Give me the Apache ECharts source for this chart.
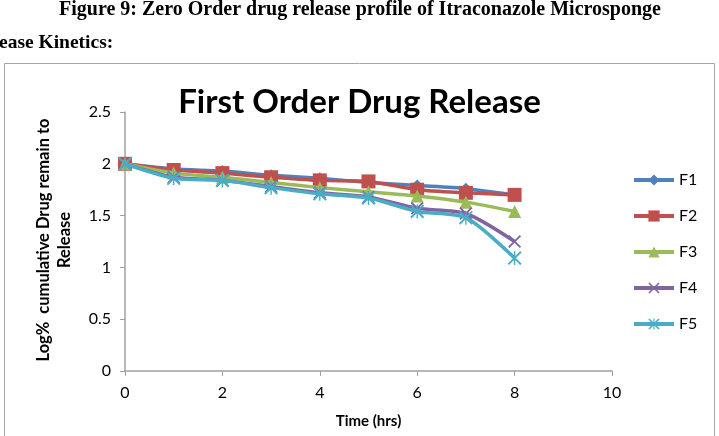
<!DOCTYPE html>
<html>
<head>
<meta charset="utf-8">
<script src="https://cdn.jsdelivr.net/npm/echarts@6/dist/echarts.min.js"></script>
<style>html,body{margin:0;padding:0;background:#fff;}#c{width:719px;height:436px;}</style>
</head>
<body>
<div id="c"></div>
<script>
const timeHrs = [0, 1, 2, 3, 4, 5, 6, 7, 8];
const seriesNames = ['F1', 'F2', 'F3', 'F4', 'F5'];
const F1 = [2.00, 1.95, 1.93, 1.89, 1.86, 1.82, 1.79, 1.76, 1.70];
const F2 = [2.00, 1.94, 1.91, 1.87, 1.84, 1.83, 1.75, 1.72, 1.70];
const F3 = [2.00, 1.91, 1.87, 1.82, 1.77, 1.73, 1.69, 1.63, 1.54];
const F4 = [2.00, 1.87, 1.84, 1.78, 1.72, 1.68, 1.57, 1.52, 1.25];
const F5 = [2.00, 1.86, 1.84, 1.77, 1.71, 1.67, 1.54, 1.48, 1.09];
const xTicks = [0, 2, 4, 6, 8, 10];
const yTicks = [0, 0.5, 1, 1.5, 2, 2.5];

const colors = ['#4F81BD', '#C0504D', '#9BBB59', '#8064A2', '#4BACC6'];
const xSym = 'path://M0,1 L1,0 L5,4 L9,0 L10,1 L6,5 L10,9 L9,10 L5,6 L1,10 L0,9 L4,5 Z';
const starSym = 'path://M0,1 L1,0 L10,9 L9,10 Z M9,0 L10,1 L1,10 L0,9 Z M4.5,0 L5.5,0 L5.5,10 L4.5,10 Z';
const symbols = ['diamond', 'rect', 'triangle', xSym, starSym];
const symSizes = [12, 14, 13, 13, 14];
const allData = [F1, F2, F3, F4, F5];

const font = 'Lato, "Open Sans", sans-serif';
const serif = '"Liberation Serif", serif';
const chart = echarts.init(document.getElementById('c'));
chart.setOption({
  animation: false,
  backgroundColor: '#fff',
  color: colors,
  title: {
    text: 'First Order Drug Release',
    left: 'center',
    top: 81,
    textStyle: { fontFamily: font, fontWeight: 'bold', fontSize: 33, color: '#000' }
  },
  graphic: [
    { type: 'rect', shape: { x: 4.5, y: 63.5, width: 710, height: 380 }, style: { fill: 'none', stroke: '#A6A6A6', lineWidth: 1 }, silent: true },
    { type: 'text', x: 360, y: 10, style: { text: 'Figure 9: Zero Order drug release profile of Itraconazole Microsponge', fontFamily: serif, fontWeight: 'bold', fontSize: 20, align: 'center', verticalAlign: 'middle', fill: '#000' } },
    { type: 'text', x: -1, y: 43, style: { text: 'ease Kinetics:', fontFamily: serif, fontWeight: 'bold', fontSize: 19.5, align: 'left', verticalAlign: 'middle', fill: '#000' } },
    { type: 'text', x: 54, y: 240, rotation: Math.PI / 2, style: { text: 'Log%  cumulative Drug remain to\nRelease', fontFamily: font, fontWeight: 'bold', fontSize: 16.5, align: 'center', verticalAlign: 'middle', fill: '#000', lineHeight: 21 } }
  ],
  legend: {
    orient: 'vertical',
    left: 627,
    top: 167,
    itemWidth: 40,
    itemHeight: 14,
    itemGap: 20,
    lineStyle: { width: 4 },
    textStyle: { fontFamily: font, fontSize: 16, color: '#000' },
    data: seriesNames
  },
  grid: { left: 125, right: 107, top: 112, bottom: 65 },
  xAxis: {
    type: 'value',
    min: xTicks[0], max: xTicks[xTicks.length - 1], interval: 2,
    name: 'Time (hrs)', nameLocation: 'middle', nameGap: 43,
    nameTextStyle: { fontFamily: font, fontWeight: 'bold', fontSize: 15, color: '#000' },
    axisLine: { lineStyle: { color: '#A0A0A0', width: 1.5 } },
    axisTick: { show: true, length: 5, lineStyle: { color: '#A0A0A0' } },
    axisLabel: { fontFamily: font, fontSize: 16, color: '#000', margin: 14 },
    splitLine: { show: false }
  },
  yAxis: {
    type: 'value',
    min: yTicks[0], max: yTicks[yTicks.length - 1], interval: 0.5,
    axisLine: { show: true, lineStyle: { color: '#A0A0A0', width: 1.5 } },
    axisTick: { show: true, length: 5, lineStyle: { color: '#A0A0A0' } },
    axisLabel: { fontFamily: font, fontSize: 16, color: '#000', margin: 14 },
    splitLine: { show: false }
  },
  series: seriesNames.map((n, i) => ({
    name: n,
    type: 'line',
    data: timeHrs.map((t, j) => [t, allData[i][j]]),
    smooth: 0.25,
    symbol: symbols[i],
    symbolSize: symSizes[i],
    showAllSymbol: true,
    lineStyle: { width: 3.5, color: colors[i] },
    itemStyle: { color: colors[i] },
    z: 2 + i
  }))
});
</script>
</body>
</html>
